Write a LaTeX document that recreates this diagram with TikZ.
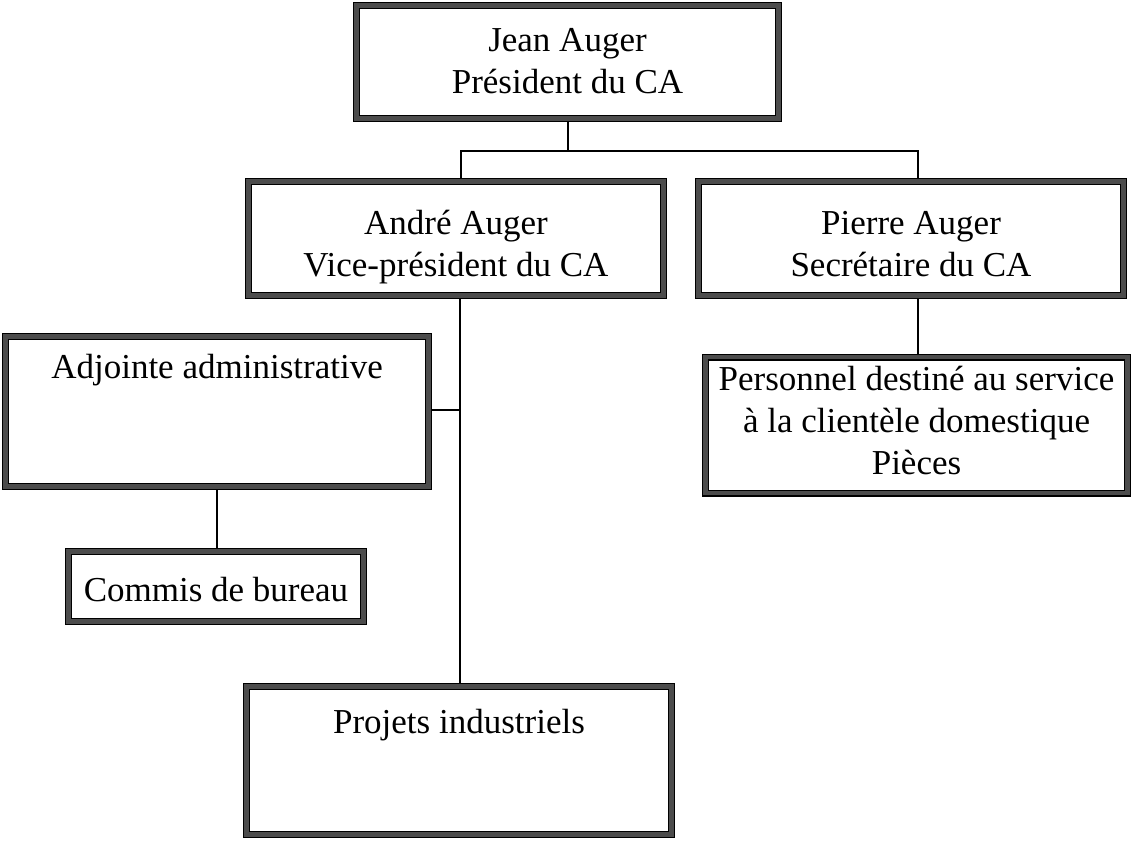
\documentclass[tikz,border=0pt]{standalone}
\usepackage{fontspec}
\setmainfont{Liberation Serif}
\begin{document}
\begin{tikzpicture}[x=1pt,y=-1pt,
  orgbox/.style={draw=black, line width=1.2pt, double=black!70, double distance=4.6pt,
    fill=white, rectangle, inner sep=0pt, align=center},
  link/.style={draw=black, line width=1.7pt},
  lbl/.style={font=\fontsize{35}{42}\selectfont, align=center, inner sep=0pt}]
\useasboundingbox (0,0) rectangle (1132,844);
\fill[white] (0,0) rectangle (1132,844);

% connector positions
\coordinate (busL) at (461,151);
\coordinate (busR) at (918,151);
\coordinate (trunk) at (460,410);

% boxes (placed first so the connectors can refer to them)
\path
  node[orgbox, minimum width=422pt, minimum height=113pt] (jean) at (567.5,62) {}
  node[orgbox, minimum width=415pt, minimum height=114pt] (andre) at (456,238.5) {}
  node[orgbox, minimum width=425pt, minimum height=114pt] (pierre) at (911,238.5) {}
  node[orgbox, minimum width=423pt, minimum height=150pt] (adj) at (217,411.5) {}
  node[orgbox, minimum width=295pt, minimum height=70pt] (commis) at (216,586.5) {}
  node[orgbox, minimum width=422pt, minimum height=136pt] (perso) at (916.5,425) {}
  node[orgbox, minimum width=425pt, minimum height=148pt] (projets) at (459,760.5) {};

% connectors
\draw[link] (jean.south -| 568,0) -- (568,151);
\draw[link] (andre.north -| busL) -- (busL) -- (busR) -- (pierre.north -| busR);
\draw[link] (andre.south -| trunk) -- (projets.north -| trunk);
\draw[link] (adj.east |- trunk) -- (trunk);
\draw[link] (adj.south -| 217,0) -- (commis.north -| 217,0);
\draw[link] (pierre.south -| busR) -- (perso.north -| busR);

% boxes again on top of the connector ends
\path
  node[orgbox, minimum width=422pt, minimum height=113pt] at (jean) {}
  node[orgbox, minimum width=415pt, minimum height=114pt] at (andre) {}
  node[orgbox, minimum width=425pt, minimum height=114pt] at (pierre) {}
  node[orgbox, minimum width=423pt, minimum height=150pt] at (adj) {}
  node[orgbox, minimum width=295pt, minimum height=70pt] at (commis) {}
  node[orgbox, minimum width=422pt, minimum height=136pt] at (perso) {}
  node[orgbox, minimum width=425pt, minimum height=148pt] at (projets) {};

% texts (anchored at the baseline of their last line)
\node[lbl, anchor=base] (jeanT) at (567.5,93) {Jean Auger\\Président du CA};
\node[lbl, anchor=base] (andreT) at (456,276) {André Auger\\Vice-président du CA};
\node[lbl, anchor=base] (pierreT) at (911,276) {Pierre Auger\\Secrétaire du CA};
\node[lbl, anchor=base] (adjT) at (217,378) {Adjointe administrative};
\node[lbl, anchor=base] (commisT) at (216,601) {Commis de bureau};
\node[lbl, anchor=base] (persoT) at (916.5,474) {Personnel destiné au service\\à la clientèle domestique\\Pièces};
\node[lbl, anchor=base] (projetsT) at (459,733) {Projets industriels};
\end{tikzpicture}
\end{document}
